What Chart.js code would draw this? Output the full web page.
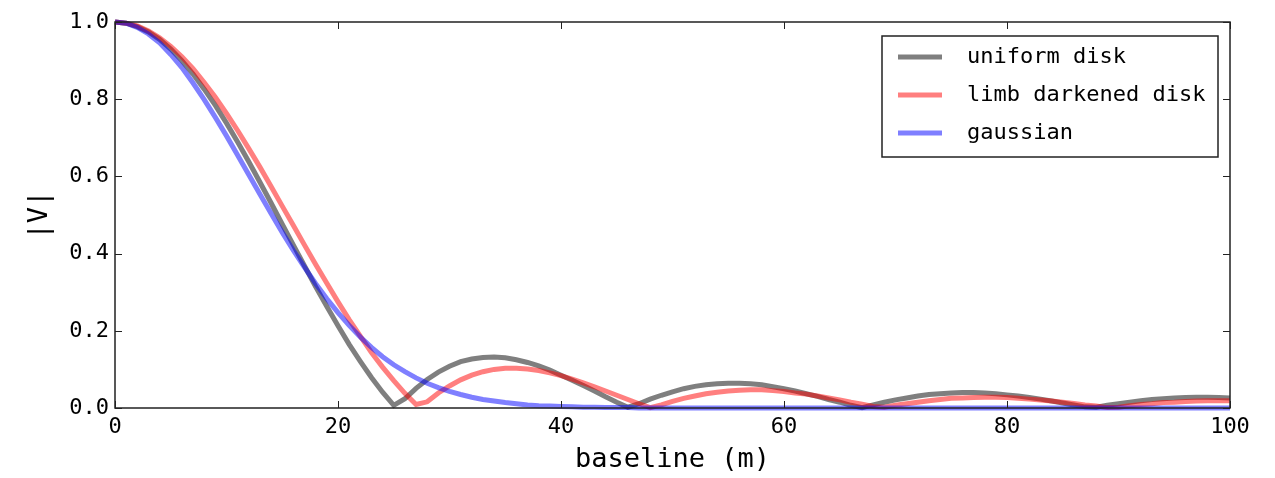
<!DOCTYPE html>
<html>
<head>
<meta charset="utf-8">
<title>Visibility vs baseline</title>
<script src="https://cdn.jsdelivr.net/npm/chart.js@4/dist/chart.umd.min.js"></script>
<style>
  html, body { margin: 0; padding: 0; background: #fff; }
  canvas { display: block; }
</style>
</head>
<body>
<canvas id="visChart" width="1275" height="478"></canvas>
<script>
// baseline samples in metres
const baseline = [
  0, 1, 2, 3, 4, 5, 6, 7, 8, 9, 10, 11, 12, 13, 14, 15, 16, 17, 18, 19,
  20, 21, 22, 23, 24, 25, 26, 27, 28, 29, 30, 31, 32, 33, 34, 35, 36, 37, 38, 39,
  40, 41, 42, 43, 44, 45, 46, 47, 48, 49, 50, 51, 52, 53, 54, 55, 56, 57, 58, 59,
  60, 61, 62, 63, 64, 65, 66, 67, 68, 69, 70, 71, 72, 73, 74, 75, 76, 77, 78, 79,
  80, 81, 82, 83, 84, 85, 86, 87, 88, 89, 90, 91, 92, 93, 94, 95, 96, 97, 98, 99, 100
];

// |V| for each model
const uniformDisk = [
  1.000, 0.997, 0.988, 0.974, 0.955, 0.930, 0.900, 0.865, 0.826, 0.784,
  0.738, 0.689, 0.638, 0.585, 0.531, 0.476, 0.422, 0.368, 0.314, 0.263,
  0.213, 0.165, 0.121, 0.079, 0.041, 0.007, 0.024, 0.051, 0.074, 0.093,
  0.108, 0.120, 0.127, 0.131, 0.132, 0.130, 0.125, 0.118, 0.109, 0.098,
  0.085, 0.072, 0.058, 0.044, 0.029, 0.015, 0.002, 0.011, 0.023, 0.033,
  0.042, 0.050, 0.056, 0.060, 0.063, 0.064, 0.064, 0.063, 0.060, 0.055,
  0.050, 0.044, 0.037, 0.030, 0.022, 0.015, 0.007, 0.001, 0.008, 0.015,
  0.021, 0.026, 0.031, 0.035, 0.037, 0.039, 0.040, 0.040, 0.039, 0.037,
  0.034, 0.031, 0.027, 0.023, 0.018, 0.013, 0.008, 0.003, 0.002, 0.007,
  0.011, 0.015, 0.019, 0.022, 0.024, 0.026, 0.027, 0.028, 0.028, 0.027, 0.026
];
const limbDarkened = [
  1.000, 0.997, 0.990, 0.977, 0.959, 0.937, 0.910, 0.879, 0.843, 0.805,
  0.763, 0.719, 0.672, 0.624, 0.574, 0.523, 0.473, 0.422, 0.372, 0.323,
  0.275, 0.229, 0.186, 0.144, 0.106, 0.071, 0.038, 0.009, 0.016, 0.039,
  0.057, 0.073, 0.085, 0.094, 0.100, 0.103, 0.103, 0.101, 0.097, 0.091,
  0.084, 0.075, 0.065, 0.055, 0.044, 0.033, 0.022, 0.011, 0.001, 0.008,
  0.017, 0.025, 0.031, 0.037, 0.041, 0.044, 0.046, 0.047, 0.047, 0.045,
  0.043, 0.039, 0.036, 0.031, 0.026, 0.021, 0.015, 0.010, 0.004, 0.002,
  0.007, 0.011, 0.015, 0.019, 0.022, 0.025, 0.026, 0.027, 0.028, 0.028,
  0.027, 0.025, 0.023, 0.021, 0.018, 0.015, 0.012, 0.008, 0.005, 0.001,
  0.002, 0.006, 0.009, 0.011, 0.014, 0.015, 0.017, 0.018, 0.019, 0.019, 0.019
];
const gaussian = [
  1.000, 0.997, 0.986, 0.969, 0.946, 0.916, 0.882, 0.842, 0.799, 0.753,
  0.705, 0.655, 0.604, 0.554, 0.504, 0.455, 0.408, 0.364, 0.322, 0.283,
  0.247, 0.214, 0.184, 0.157, 0.133, 0.112, 0.094, 0.078, 0.064, 0.053,
  0.043, 0.035, 0.028, 0.022, 0.018, 0.014, 0.011, 0.008, 0.006, 0.005,
  0.004, 0.003, 0.002, 0.002, 0.001, 0.001, 0.001, 0, 0, 0,
  0, 0, 0, 0, 0, 0, 0, 0, 0, 0,
  0, 0, 0, 0, 0, 0, 0, 0, 0, 0,
  0, 0, 0, 0, 0, 0, 0, 0, 0, 0,
  0, 0, 0, 0, 0, 0, 0, 0, 0, 0,
  0, 0, 0, 0, 0, 0, 0, 0, 0, 0, 0
];

const seriesLabels = ['uniform disk', 'limb darkened disk', 'gaussian'];
const seriesColors = ['rgba(0,0,0,0.5)', 'rgba(255,0,0,0.5)', 'rgba(0,0,255,0.5)'];
const xTicks = [0, 20, 40, 60, 80, 100];
const yTicks = [0.0, 0.2, 0.4, 0.6, 0.8, 1.0];

const FONT = '"DejaVu Sans Mono", "Liberation Mono", monospace';

function toPoints(values) {
  return baseline.map((b, i) => ({ x: b, y: values[i] }));
}

// frame, inward tick marks and boxed legend
const framePlugin = {
  id: 'framePlugin',
  afterDatasetsDraw(chart) {
    const ctx = chart.ctx;
    const area = chart.chartArea;
    const xs = chart.scales.x;
    const ys = chart.scales.y;
    const tl = 7;
    ctx.save();
    ctx.strokeStyle = '#222';
    ctx.lineWidth = 1.5;
    ctx.strokeRect(area.left, area.top, area.right - area.left, area.bottom - area.top);
    ctx.lineWidth = 1;
    ctx.beginPath();
    xTicks.forEach(v => {
      const px = Math.round(xs.getPixelForValue(v)) + 0.5;
      ctx.moveTo(px, area.bottom); ctx.lineTo(px, area.bottom - tl);
      ctx.moveTo(px, area.top); ctx.lineTo(px, area.top + tl);
    });
    yTicks.forEach(v => {
      const py = Math.round(ys.getPixelForValue(v)) + 0.5;
      ctx.moveTo(area.left, py); ctx.lineTo(area.left + tl, py);
      ctx.moveTo(area.right, py); ctx.lineTo(area.right - tl, py);
    });
    ctx.stroke();

    // legend
    const boxW = 336, boxH = 121;
    const bx = area.right - 12 - boxW;
    const by = area.top + 14;
    ctx.fillStyle = '#fff';
    ctx.fillRect(bx, by, boxW, boxH);
    ctx.strokeStyle = '#222';
    ctx.lineWidth = 1.5;
    ctx.strokeRect(bx, by, boxW, boxH);
    ctx.font = '22px ' + FONT;
    ctx.textBaseline = 'middle';
    ctx.textAlign = 'left';
    chart.data.datasets.forEach((ds, i) => {
      const cy = by + 21 + i * 38;
      ctx.strokeStyle = ds.borderColor;
      ctx.lineWidth = 5;
      ctx.beginPath();
      ctx.moveTo(bx + 16, cy);
      ctx.lineTo(bx + 60, cy);
      ctx.stroke();
      ctx.fillStyle = '#000';
      ctx.fillText(ds.label, bx + 85, cy);
    });
    ctx.restore();
  }
};

const datasets = [uniformDisk, limbDarkened, gaussian].map((vals, i) => ({
  label: seriesLabels[i],
  data: toPoints(vals),
  borderColor: seriesColors[i],
  borderWidth: 5,
  pointRadius: 0,
  fill: false,
  tension: 0,
  order: 3 - i,
  clip: false
}));

new Chart(document.getElementById('visChart'), {
  type: 'line',
  data: { datasets: datasets },
  options: {
    responsive: false,
    animation: false,
    layout: { padding: { top: 22, right: 45, left: 0, bottom: 0 } },
    plugins: {
      legend: { display: false },
      tooltip: { enabled: false }
    },
    scales: {
      x: {
        type: 'linear',
        min: 0,
        max: 100,
        afterFit: s => { s.height = 70; },
        afterBuildTicks: s => { s.ticks = xTicks.map(v => ({ value: v })); },
        grid: { display: false, drawTicks: false },
        border: { display: false },
        ticks: {
          padding: 6,
          color: '#000',
          font: { family: FONT, size: 22 },
          maxRotation: 0,
          callback: v => String(v)
        },
        title: {
          display: true,
          text: 'baseline (m)',
          color: '#000',
          font: { family: FONT, size: 27 },
          padding: { top: 0, bottom: 2 }
        }
      },
      y: {
        type: 'linear',
        min: 0,
        max: 1,
        afterFit: s => { s.width = 115; },
        afterBuildTicks: s => { s.ticks = yTicks.map(v => ({ value: v })); },
        grid: { display: false, drawTicks: false },
        border: { display: false },
        ticks: {
          padding: 6,
          color: '#000',
          font: { family: FONT, size: 22 },
          callback: v => v.toFixed(1)
        },
        title: {
          display: true,
          text: '|V|',
          color: '#000',
          font: { family: FONT, size: 27 },
          padding: { top: 24, bottom: 0 }
        }
      }
    }
  },
  plugins: [framePlugin]
});
</script>
</body>
</html>
